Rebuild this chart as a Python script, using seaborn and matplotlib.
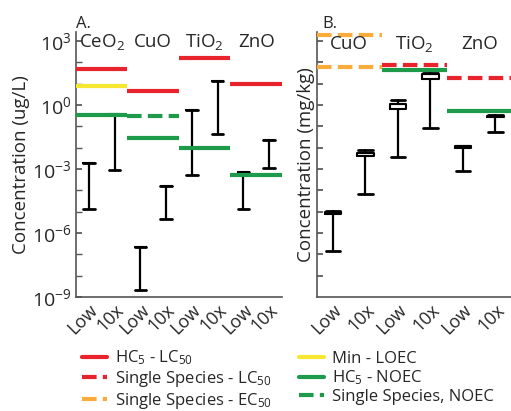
import numpy as np
import matplotlib
matplotlib.use('Agg')
import matplotlib.pyplot as plt
import seaborn as sns
from matplotlib.lines import Line2D

sns.set_theme(style='ticks')
plt.rcParams['font.family'] = ['Open Sans', 'DejaVu Sans']
plt.rcParams['mathtext.fontset'] = 'custom'
plt.rcParams['mathtext.rm'] = 'Open Sans'
plt.rcParams['mathtext.it'] = 'Open Sans:italic'
plt.rcParams['mathtext.default'] = 'regular'

# A. water, ug/L (log10 of concentration)
a_groups = ['CeO$_2$', 'CuO', 'TiO$_2$', 'ZnO']
a_scen = ['Low', '10x'] * 4
a_lo = [-4.86, -3.06, -8.66, -5.36, -3.27, -1.36, -4.89, -2.94]
a_hi = [-2.72, -0.41, -6.66, -3.80, -0.25, 1.14, -3.16, -1.63]
a_hc5_lc50 = [1.70, 0.64, 2.20, 0.97]
a_min_loec = [0.89, None, None, None]
a_hc5_noec = [-0.48, -1.55, -2.02, -3.27]
a_ss_noec = [None, -0.53, None, None]

# B. soil, mg/kg (log10 of concentration)
b_groups = ['CuO', 'TiO$_2$', 'ZnO']
b_scen = ['Low', '10x'] * 3
b_lo = [-3.84, -1.16, 0.56, 1.94, -0.09, 1.73]
b_q1 = [-2.10, 0.62, 2.81, 4.20, 1.00, 2.44]
b_q3 = [-2.00, 0.76, 3.06, 4.47, 1.06, 2.50]
b_hi = [-1.97, 0.88, 3.22, 4.59, 1.06, 2.52]
b_ss_lc50 = [None, 4.89, 4.27]
b_ss_ec50 = [6.30, None, None]
b_ss_ec50_2 = [4.78, None, None]
b_hc5_noec = [None, 4.64, 2.72]

red = '#e8232b'
yellow = '#f7e730'
green = '#1d9a4a'
orange = '#f9ab3c'
dash = (0, (3.5, 1.5))


def thresholds(ax, vals, color, ls='-'):
    for g, v in enumerate(vals):
        if v is None:
            continue
        ax.hlines(10 ** v, 2 * g, 2 * g + 2, colors=color, lw=3, linestyles=ls,
                  clip_on=False, zorder=3)


def ranges(ax, lo, hi, q1=None, q3=None):
    stats = []
    for i in range(len(lo)):
        s1 = q1[i] if q1 is not None else hi[i]
        s3 = q3[i] if q3 is not None else hi[i]
        stats.append(dict(whislo=10 ** lo[i], whishi=10 ** hi[i], q1=10 ** s1,
                          q3=10 ** s3, med=10 ** s3))
    pos = np.arange(len(lo)) + 0.5
    ax.bxp(stats, positions=pos, widths=0.5, showfliers=False,
           showbox=q1 is not None, manage_ticks=False,
           boxprops=dict(color='black', lw=1.5),
           whiskerprops=dict(color='black', lw=1.6),
           capprops=dict(color='black', lw=2),
           medianprops=dict(color='black', lw=1.5), capwidths=0.45)
    ax.set_xticks(pos)


def style(ax, lo, hi):
    ax.set_yscale('log')
    ax.set_ylim(10 ** lo, 10 ** hi)
    for s in ['top', 'right']:
        ax.spines[s].set_visible(False)
    for s in ['left', 'bottom']:
        ax.spines[s].set_color('#555555')
        ax.spines[s].set_linewidth(1.2)
    ax.tick_params(axis='y', which='both', direction='in', length=4, color='#555555')
    ax.tick_params(axis='x', length=0, labelsize=13, pad=3)


fig = plt.figure(figsize=(5.11, 4.11), dpi=100)
axA = fig.add_axes([0.1487, 0.2774, 0.403, 0.6448])
axB = fig.add_axes([0.6198, 0.2774, 0.3816, 0.6448])

# panel A
thresholds(axA, a_hc5_lc50, red)
thresholds(axA, a_min_loec, yellow)
thresholds(axA, a_hc5_noec, green)
thresholds(axA, a_ss_noec, green, dash)
ranges(axA, a_lo, a_hi)
style(axA, -9, 3.42)
axA.set_xlim(0, 8)
axA.set_yticks([10.0 ** e for e in range(-9, 4, 3)])
axA.set_yticks([10.0 ** e for e in range(-9, 4)], minor=True)
axA.yaxis.set_minor_formatter(matplotlib.ticker.NullFormatter())
axA.tick_params(axis='y', which='major', labelsize=14)
axA.set_xticklabels(a_scen, rotation=45, ha='right', rotation_mode='anchor')
axA.set_ylabel('Concentration (ug/L)', fontsize=13.5, labelpad=1)
for g, name in enumerate(a_groups):
    axA.text(2 * g + 1, 10 ** 2.95, name, ha='center', va='center', fontsize=13.5)
axA.text(0, 1.0, 'A.', transform=axA.transAxes, fontsize=12, va='bottom')

# panel B
thresholds(axB, b_ss_ec50, orange, dash)
thresholds(axB, b_ss_ec50_2, orange, dash)
thresholds(axB, b_ss_lc50, red, dash)
thresholds(axB, b_hc5_noec, green)
ranges(axB, b_lo, b_hi, b_q1, b_q3)
style(axB, -6, 6.42)
axB.set_xlim(0, 6)
axB.set_yticks([10.0 ** e for e in range(-5, 7)])
axB.yaxis.set_major_formatter(matplotlib.ticker.NullFormatter())
axB.yaxis.set_minor_locator(matplotlib.ticker.NullLocator())
axB.set_xticklabels(b_scen, rotation=45, ha='right', rotation_mode='anchor')
axB.set_ylabel('Concentration (mg/kg)', fontsize=13.5, labelpad=-2)
for g, name in enumerate(b_groups):
    axB.text(2 * g + 1, 10 ** 5.85, name, ha='center', va='center', fontsize=13.5)
axB.text(0.03, 1.0, 'B.', transform=axB.transAxes, fontsize=12, va='bottom')

handles = [
    Line2D([], [], color=red, lw=3),
    Line2D([], [], color=red, lw=3, ls=dash),
    Line2D([], [], color=orange, lw=3, ls=dash),
    Line2D([], [], color=yellow, lw=3),
    Line2D([], [], color=green, lw=3),
    Line2D([], [], color=green, lw=3, ls=dash),
]
labels = ['HC$_5$ - LC$_{50}$', 'Single Species - LC$_{50}$', 'Single Species - EC$_{50}$',
          'Min - LOEC', 'HC$_5$ - NOEC', 'Single Species, NOEC']
fig.legend(handles, labels, ncol=2, loc='upper left', bbox_to_anchor=(0.16, 0.152),
           frameon=False, fontsize=12, handlelength=1.5, handletextpad=0.5,
           labelspacing=0.12, columnspacing=1.6, borderpad=0, borderaxespad=0)

fig.savefig('out.png', dpi=100)
